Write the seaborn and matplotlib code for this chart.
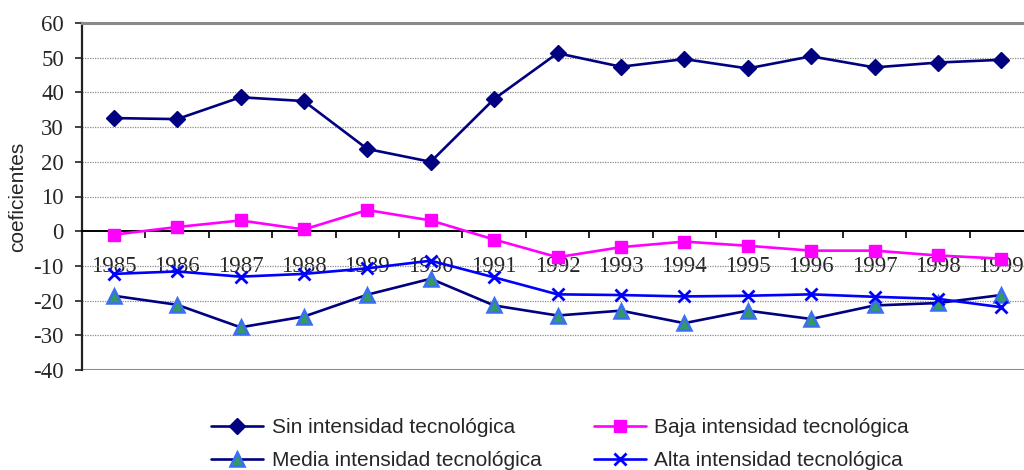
import matplotlib
matplotlib.use("Agg")
import matplotlib.pyplot as plt
import seaborn as sns
import pandas as pd

# Years on the category axis
years = ["1985", "1986", "1987", "1988", "1989", "1990", "1991", "1992",
         "1993", "1994", "1995", "1996", "1997", "1998", "1999"]

# Coefficients by technological intensity
sin_intensidad = [32.6, 32.3, 38.6, 37.5, 23.7, 20.0, 38.1, 51.3,
                  47.4, 49.6, 46.9, 50.4, 47.2, 48.6, 49.4]
baja_intensidad = [-1.0, 1.2, 3.1, 0.5, 6.1, 3.1, -2.4, -7.5,
                   -4.6, -3.0, -4.2, -5.6, -5.6, -7.0, -7.9]
media_intensidad = [-18.6, -21.2, -27.7, -24.6, -18.3, -13.7, -21.4, -24.3,
                    -22.9, -26.5, -22.9, -25.3, -21.4, -20.7, -18.4]
alta_intensidad = [-12.3, -11.6, -13.1, -12.3, -10.7, -8.5, -13.3, -18.2,
                   -18.4, -18.8, -18.6, -18.2, -18.9, -19.5, -21.9]

series_names = ["Sin intensidad tecnológica", "Baja intensidad tecnológica",
                "Media intensidad tecnológica", "Alta intensidad tecnológica"]
y_ticks = [-40, -30, -20, -10, 0, 10, 20, 30, 40, 50, 60]
y_label = "coeficientes"

pos = list(range(len(years)))
frames = []
for name, vals in zip(series_names,
                      [sin_intensidad, baja_intensidad, media_intensidad, alta_intensidad]):
    frames.append(pd.DataFrame({"pos": pos, "valor": vals, "serie": name}))
df = pd.concat(frames, ignore_index=True)

sns.set_theme(style="white")
plt.rcParams["font.family"] = ["Liberation Serif", "DejaVu Serif"]

fig = plt.figure(figsize=(10.24, 4.70), dpi=100)
ax = fig.add_axes([82 / 1024, 100 / 470, 951 / 1024, 347 / 470])

styles = {
    series_names[0]: dict(color="#000080", marker="D", markersize=8,
                          markerfacecolor="#000080", markeredgecolor="#000080",
                          markeredgewidth=1),
    series_names[1]: dict(color="#FF00FF", marker="s", markersize=9,
                          markerfacecolor="#FF00FF", markeredgecolor="#FF00FF",
                          markeredgewidth=1),
    series_names[2]: dict(color="#000080", marker="^", markersize=10,
                          markerfacecolor="#339966", markeredgecolor="#3A6EF5",
                          markeredgewidth=1.8),
    series_names[3]: dict(color="#0000FF", marker="x", markersize=8,
                          markerfacecolor="#0000FF", markeredgecolor="#0000FF",
                          markeredgewidth=2),
}

# Horizontal dotted gridlines beneath the series
for v in y_ticks:
    if v in (0, y_ticks[0], y_ticks[-1]):
        continue
    ax.axhline(v, color="#8c8c8c", linestyle=(0, (1, 1)), linewidth=0.9, zorder=1)
ax.axhline(y_ticks[0], color="#8a8a8a", linewidth=2.2, zorder=1)

for name in series_names:
    sub = df[df["serie"] == name]
    sns.lineplot(data=sub, x="pos", y="valor", ax=ax, label=name, legend=False,
                 linewidth=1.9, zorder=3, **styles[name])

ax.set_xlim(-0.5, len(years) - 0.5)
ax.set_ylim(y_ticks[0], y_ticks[-1])

# Spines: category axis crosses at zero
ax.spines["bottom"].set_position(("data", 0))
ax.spines["bottom"].set_color("black")
ax.spines["bottom"].set_linewidth(1.4)
ax.spines["left"].set_color("#222222")
ax.spines["left"].set_linewidth(1.6)
ax.spines["top"].set_color("#8a8a8a")
ax.spines["top"].set_linewidth(2.2)
ax.spines["right"].set_visible(False)

# Y ticks
ax.set_yticks(y_ticks)
ax.set_yticklabels([str(v) for v in y_ticks])
ax.tick_params(axis="y", which="major", direction="out", length=5, width=1.2,
               color="#222222", pad=8, labelsize=16.5, left=True)

# X: boundary ticks without labels, category labels at the centres
ax.set_xticks([p - 0.5 for p in pos] + [len(years) - 0.5])
ax.set_xticklabels([])
ax.set_xticks(pos, minor=True)
ax.set_xticklabels(years, minor=True)
ax.tick_params(axis="x", which="major", direction="out", length=5, width=1.2,
               color="black", bottom=True)
ax.tick_params(axis="x", which="minor", length=0, pad=18, labelsize=16.5)

ax.set_xlabel("")
ax.set_ylabel(y_label, family=["Liberation Sans", "DejaVu Sans"], fontsize=15)
ax.yaxis.set_label_coords(-(82 - 27) / 951, 0.5)
ax.grid(False)

handles, labels = ax.get_legend_handles_labels()
order = [0, 2, 1, 3]
leg = fig.legend([handles[i] for i in order], [labels[i] for i in order],
                 ncol=2, loc="center", bbox_to_anchor=(560 / 1024, 26 / 470),
                 frameon=False, handlelength=2.5, handletextpad=0.4,
                 columnspacing=2.5, labelspacing=0.69,
                 prop={"family": ["Liberation Sans", "DejaVu Sans"], "size": 15})

fig.savefig("out.png", dpi=100)
